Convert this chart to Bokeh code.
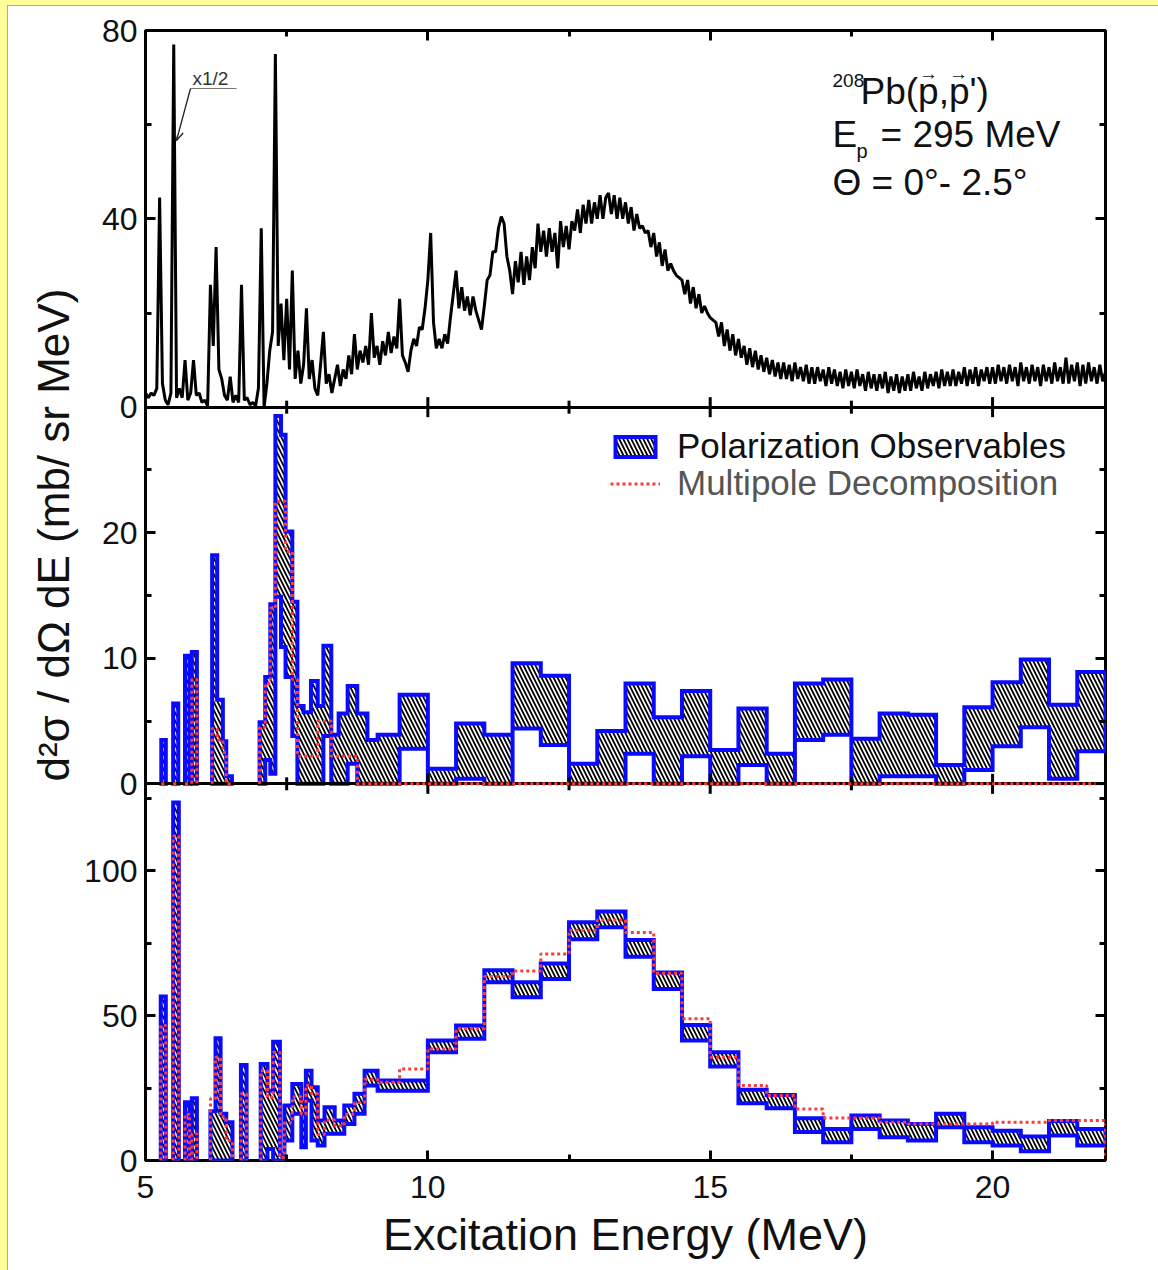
from math import pi
import numpy as np
from bokeh.plotting import figure
from bokeh.models import (Range1d, LinearAxis, FixedTicker, CustomJSTickFormatter, Label, Legend,
                          LegendItem, Arrow, OpenHead, Title)
from bokeh.embed import file_html
from bokeh.resources import INLINE

# ---------------- data ----------------
X_LO, X_HI = 5, 22

# top panel: measured spectrum (0.05 MeV steps from 5 MeV)
spec_e_start = 5.0
spec_e_step = 0.05
spec_counts = [
    3.0, 2.0, 3.0, 2.5, 4.0, 44.5, 5.0, 1.5, 0.5, 3.0, 77.0, 2.0, 4.0, 2.0, 10.0, 1.5, 3.0, 10.0, 2.5, 3.0,
    1.0, 1.5, 0.3, 26.0, 13.0, 34.0, 8.0, 6.0, 2.5, 1.5, 6.5, 1.0, 2.5, 1.0, 26.0, 1.5, 2.0, 0.5, 1.0, 0.3,
    4.0, 38.0, 0.0, 5.0, 12.0, 16.0, 75.0, 13.0, 22.0, 10.0, 23.0, 8.0, 29.0, 6.0, 12.0, 5.0, 9.0, 21.0, 6.0, 10.0,
    4.0, 2.5, 9.0, 16.0, 5.0, 7.0, 3.0, 6.0, 9.0, 4.5, 8.0, 6.0, 11.0, 7.0, 15.5, 8.0, 12.0, 9.5, 13.0, 9.0,
    20.0, 10.5, 13.0, 9.0, 14.0, 11.0, 16.0, 11.5, 15.0, 12.5, 23.0, 11.0, 9.5, 7.5, 12.0, 14.5, 13.0, 17.0, 16.5, 21.0,
    27.0, 37.0, 18.0, 12.5, 14.5, 12.5, 15.5, 13.5, 19.0, 24.0, 29.0, 21.0, 25.5, 20.5, 23.5, 19.5, 23.5, 20.5, 18.5, 16.5,
    21.5, 27.0, 28.0, 33.0, 33.0, 38.0, 40.5, 39.0, 32.0, 29.0, 24.0, 31.0, 26.5, 33.0, 26.0, 32.0, 27.0, 34.0, 29.5, 39.0,
    33.0, 37.5, 32.0, 38.0, 33.0, 37.0, 29.5, 39.5, 34.0, 38.5, 33.5, 39.5, 37.5, 42.0, 37.0, 43.0, 39.0, 44.0, 39.0, 43.5,
    40.0, 45.0, 40.0, 44.5, 45.5, 41.0, 45.0, 40.0, 44.5, 40.0, 43.5, 39.0, 42.5, 37.5, 41.0, 38.0, 38.5, 37.0, 37.5, 34.0,
    37.0, 32.0, 35.0, 30.0, 33.5, 29.0, 30.5, 29.0, 28.0, 27.5, 27.0, 24.0, 27.0, 22.0, 25.5, 21.0, 24.0, 20.0, 21.5, 20.0,
    19.0, 18.5, 18.0, 15.0, 18.0, 13.0, 16.5, 12.0, 15.5, 11.0, 14.5, 10.5, 13.0, 9.0, 12.5, 8.5, 12.0, 8.0, 11.0, 7.5,
    10.5, 7.0, 10.0, 6.5, 9.5, 6.0, 9.5, 6.0, 9.0, 5.5, 9.5, 6.0, 8.5, 5.5, 9.0, 5.0, 8.5, 5.0, 8.5, 5.5,
    8.0, 4.5, 8.5, 5.0, 8.0, 4.5, 7.5, 4.0, 8.0, 4.5, 7.5, 4.0, 8.0, 4.5, 7.0, 3.5, 7.5, 4.0, 7.0, 3.5,
    7.0, 4.0, 7.5, 3.0, 6.5, 3.5, 7.0, 3.0, 6.5, 3.5, 7.0, 3.5, 7.5, 4.0, 6.5, 3.5, 7.5, 4.0, 7.0, 4.5,
    7.5, 4.0, 8.0, 4.5, 7.5, 4.5, 8.0, 4.5, 7.5, 5.0, 8.5, 4.5, 8.0, 5.0, 8.5, 4.5, 8.0, 5.5, 8.5, 5.0,
    8.5, 5.0, 9.0, 5.5, 8.5, 5.0, 9.0, 5.5, 8.5, 4.5, 9.5, 5.5, 8.5, 5.0, 9.0, 5.5, 8.5, 4.5, 9.0, 5.5,
    8.5, 5.0, 9.5, 5.5, 8.5, 5.0, 10.5, 5.0, 9.0, 5.5, 9.5, 4.5, 9.0, 5.0, 9.5, 5.5, 8.5, 5.0, 9.0, 5.5,
    7.5,
]

# middle panel: bins (left edge, right edge), band lower / upper, multipole decomposition
mid_lo = [5.28, 5.49, 5.70, 5.82, 6.18, 6.27, 6.37, 6.43, 7.02, 7.12, 7.21, 7.30, 7.40, 7.48, 7.60, 7.69,
          7.80, 7.93, 8.05, 8.15, 8.29, 8.42, 8.58, 8.75, 8.93, 9.11, 9.5, 10.0, 10.5, 11.0, 11.5, 12.0,
          12.5, 13.0, 13.5, 14.0, 14.5, 15.0, 15.5, 16.0, 16.5, 17.0, 17.5, 18.0, 18.5, 19.0, 19.5, 20.0,
          20.5, 21.0, 21.5]
mid_hi = [5.36, 5.58, 5.78, 5.91, 6.27, 6.37, 6.43, 6.53, 7.12, 7.21, 7.30, 7.40, 7.48, 7.60, 7.69, 7.80,
          7.93, 8.05, 8.15, 8.29, 8.42, 8.58, 8.75, 8.93, 9.11, 9.5, 10.0, 10.5, 11.0, 11.5, 12.0, 12.5,
          13.0, 13.5, 14.0, 14.5, 15.0, 15.5, 16.0, 16.5, 17.0, 17.5, 18.0, 18.5, 19.0, 19.5, 20.0, 20.5,
          21.0, 21.5, 22.0]
mid_lower = [0, 0, 0, 0, 0, 0, 0, 0, 0, 1.9, 0.8, 14.9, 10.9, 8.5, 3.8, 0,
             0, 0, 0, 3.8, 0, 0, 1.6, 0, 0, 0, 2.8, 0, 0.4, 0, 4.4, 3.1,
             0, 0, 2.4, 0, 2.2, 0, 1.5, 0, 3.5, 3.9, 0, 0.6, 0.6, 0, 1.1, 3.0,
             4.5, 0.4, 2.6]
mid_upper = [3.5, 6.4, 10.2, 10.5, 18.2, 6.7, 3.4, 0.6, 4.9, 8.5, 14.3, 29.3, 27.8, 20.1, 14.5, 6.2,
             5.7, 8.2, 6.2, 11.0, 3.9, 5.6, 7.8, 5.6, 3.5, 3.9, 7.1, 1.2, 4.8, 3.9, 9.6, 8.6,
             1.6, 4.2, 8.0, 5.3, 7.4, 2.7, 6.0, 2.4, 8.0, 8.3, 3.6, 5.6, 5.5, 1.5, 6.1, 8.1,
             9.9, 6.3, 8.9]
mid_md = [0, 0, 0, 8.3, 4.4, 3.5, 2.5, 0, 4.5, 8.0, 14.0, 22.5, 22.5, 18.5, 8.3, 2.2,
          2.2, 2.2, 5.0, 5.0, 2.2, 2.2, 2.2, 0, 0, 0, 0, 0, 0, 0, 0, 0,
          0, 0, 0, 0, 0, 0, 0, 0, 0, 0, 0, 0, 0, 0, 0, 0,
          0, 0, 0]

# bottom panel
bot_lo = [5.27, 5.49, 5.70, 5.82, 6.15, 6.24, 6.33, 6.43, 6.69, 7.04, 7.16, 7.26, 7.38, 7.46, 7.60, 7.76,
          7.84, 7.94, 8.05, 8.17, 8.35, 8.52, 8.70, 8.88, 9.11, 9.5, 10.0, 10.5, 11.0, 11.5, 12.0, 12.5,
          13.0, 13.5, 14.0, 14.5, 15.0, 15.5, 16.0, 16.5, 17.0, 17.5, 18.0, 18.5, 19.0, 19.5, 20.0, 20.5,
          21.0, 21.5]
bot_hi = [5.36, 5.59, 5.78, 5.91, 6.24, 6.33, 6.43, 6.54, 6.79, 7.16, 7.26, 7.38, 7.46, 7.60, 7.76, 7.84,
          7.94, 8.05, 8.17, 8.35, 8.52, 8.70, 8.88, 9.11, 9.5, 10.0, 10.5, 11.0, 11.5, 12.0, 12.5, 13.0,
          13.5, 14.0, 14.5, 15.0, 15.5, 16.0, 16.5, 17.0, 17.5, 18.0, 18.5, 19.0, 19.5, 20.0, 20.5, 21.0,
          21.5, 22.0]
bot_lower = [0, 0, 0, 0, 0, 0, 0, 0, 0, 0, 4.0, 0, 0, 6.9, 16.1, 4.6,
             20.7, 6.9, 5.2, 9.2, 9.2, 12.6, 16.1, 25.9, 24.1, 24.1, 37.4, 42.0, 61.5, 56.3, 62.6, 76.4,
             80.5, 70.3, 59.2, 41.4, 32.4, 19.8, 18.0, 9.8, 6.3, 10.9, 8.0, 6.9, 11.5, 6.3, 5.2, 3.2,
             8.6, 5.2]
bot_upper = [56.6, 123.6, 20.1, 21.5, 17.0, 42.2, 16.1, 13.2, 33.0, 33.3, 24.1, 41.0, 2.0, 19.0, 26.4, 20.0,
             31.0, 25.3, 13.8, 18.4, 13.8, 19.0, 23.0, 31.0, 27.6, 27.6, 41.4, 46.6, 65.7, 61.5, 68.0, 82.2,
             85.9, 76.1, 64.9, 46.8, 37.4, 24.4, 22.6, 14.6, 10.9, 15.5, 13.8, 12.6, 16.1, 11.5, 10.3, 8.3,
             13.6, 10.9]
bot_md = [46.6, 112.0, 16.0, 9.2, 21.3, 35.6, 15.0, 6.9, 23.0, 31.0, 21.8, 37.4, 1.0, 13.0, 22.0, 16.0,
          26.0, 23.0, 9.0, 14.0, 12.0, 16.0, 20.0, 28.0, 27.0, 31.6, 38.5, 45.5, 63.5, 65.4, 71.3, 79.5,
          83.0, 78.7, 64.6, 48.9, 35.6, 25.9, 22.4, 17.8, 14.7, 14.7, 13.2, 12.6, 12.6, 12.6, 13.2, 13.2,
          13.8, 13.8]

# axes ticks
x_major = [5, 10, 15, 20]
x_minor = [7.5, 12.5, 17.5]
top_max, top_major, top_minor = 80, [0, 40, 80], [20, 60]
mid_max, mid_major, mid_minor = 30, [0, 10, 20], [5, 15, 25]
bot_max, bot_major, bot_minor = 130, [0, 50, 100], [25, 75, 125]

# ---------------- styling / layout ----------------
FONT = "Liberation Sans"
BLUE = "#0a0aff"
RED = "#ff3a3a"
YELLOW = "#ffff99"
W, H = 1158, 1270
FL, FR, FT, FB = 145, 1105, 30, 1160   # frame edges in page pixels


def xd(px):
    return X_LO + (px - FL) / (FR - FL) * (X_HI - X_LO)


def yd(py):
    return (FB - py) / (FB - FT) * 3.0


p = figure(width=W, height=H, x_range=Range1d(X_LO, X_HI), y_range=Range1d(0, 3),
           output_backend="svg", toolbar_location=None,
           x_axis_location=None, y_axis_location=None,
           min_border_left=FL, min_border_right=W - FR, min_border_top=FT, min_border_bottom=H - FB)
p.grid.visible = False
p.background_fill_color = "white"
p.border_fill_alpha = 0
p.outline_line_color = "black"
p.outline_line_width = 3
# slide frame: pale yellow band on the left / top edge with a thin grey rule
p.styles = {"background-color": "white",
            "box-shadow": f"inset 7px 5px 0 0 {YELLOW}, inset 8px 6px 0 0 #a8a8a8"}

panels = [("bot", bot_max), ("mid", mid_max), ("top", top_max)]
p.extra_y_ranges = {name: Range1d(-i * m, (3 - i) * m) for i, (name, m) in enumerate(panels)}


def vpos(i, m, vals):
    return [i + v / m for v in vals]


y_ticker = FixedTicker(
    ticks=vpos(0, bot_max, bot_major) + vpos(1, mid_max, mid_major) + vpos(2, top_max, top_major),
    minor_ticks=vpos(0, bot_max, bot_minor) + vpos(1, mid_max, mid_minor) + vpos(2, top_max, top_minor))
y_fmt = CustomJSTickFormatter(args=dict(lims=[bot_max, mid_max, top_max]), code="""
const k = Math.min(2, Math.floor(tick + 1e-6));
return String(Math.round((tick - k) * lims[k]));
""")
blank_fmt = CustomJSTickFormatter(code="return '';")
x_ticker = FixedTicker(ticks=x_major, minor_ticks=x_minor)


def style_axis(ax, labelled):
    ax.axis_line_color = None
    ax.major_tick_in = 10
    ax.major_tick_out = 0
    ax.minor_tick_in = 6
    ax.minor_tick_out = 0
    ax.major_tick_line_width = 3
    ax.minor_tick_line_width = 3
    ax.major_tick_line_color = "black"
    ax.minor_tick_line_color = "black"
    ax.major_label_text_font = FONT
    ax.major_label_text_color = "#111111"
    if labelled:
        ax.major_label_text_font_size = "32px"
    else:
        ax.major_label_text_font_size = "0px"
        ax.major_label_standoff = 0


left = LinearAxis(ticker=y_ticker, formatter=y_fmt)
style_axis(left, True)
left.major_label_standoff = 8
p.add_layout(left, "left")

# y title: starts near the bottom of the middle panel and runs upward
p.add_layout(Title(text="d²σ / dΩ dE (mb/ sr MeV)", align="left", offset=FB - 781, standoff=8,
                   text_font=FONT, text_font_size="44px", text_font_style="normal",
                   text_color="#111111"), "left")

right = LinearAxis(ticker=y_ticker, formatter=blank_fmt)
style_axis(right, False)
p.add_layout(right, "right")

below = LinearAxis(ticker=x_ticker, axis_label="Excitation Energy (MeV)")
style_axis(below, True)
below.major_label_standoff = 15
below.axis_label_text_font = FONT
below.axis_label_text_font_size = "45px"
below.axis_label_text_font_style = "normal"
below.axis_label_text_color = "#111111"
below.axis_label_standoff = 8
p.add_layout(below, "below")

above = LinearAxis(ticker=x_ticker, formatter=blank_fmt)
style_axis(above, False)
p.add_layout(above, "above")


# ---------------- helpers building paths from the bins ----------------
def runs(lo, hi):
    groups, cur = [], [0]
    for i in range(1, len(lo)):
        if abs(lo[i] - hi[i - 1]) < 1e-9:
            cur.append(i)
        else:
            groups.append(cur)
            cur = [i]
    groups.append(cur)
    return groups


def band_paths(lo, hi, lower, upper):
    xs, ys = [], []
    for g in runs(lo, hi):
        bx, by = [], []
        for i in g:
            bx += [lo[i], hi[i]]
            by += [upper[i], upper[i]]
        for i in reversed(g):
            bx += [hi[i], lo[i]]
            by += [lower[i], lower[i]]
        xs.append(bx)
        ys.append(by)
    return xs, ys


def step_paths(lo, hi, vals):
    xs, ys = [], []
    for g in runs(lo, hi):
        sx, sy = [lo[g[0]]], [0]
        for i in g:
            sx += [lo[i], hi[i]]
            sy += [vals[i], vals[i]]
        sx.append(hi[g[-1]])
        sy.append(0)
        xs.append(sx)
        ys.append(sy)
    return xs, ys


band_style = dict(fill_color="white", hatch_pattern="left_diagonal_line", hatch_color="black",
                  hatch_scale=8, hatch_weight=1.8, line_color=BLUE, line_width=4, line_join="miter")
red_style = dict(line_color=RED, line_width=3, line_dash="3 3")

# ---------------- glyphs ----------------
spec_e = spec_e_start + spec_e_step * np.arange(len(spec_counts))
p.line(spec_e, spec_counts, y_range_name="top", line_color="black", line_width=3)

mx, my = band_paths(mid_lo, mid_hi, mid_lower, mid_upper)
mid_band = p.patches(mx, my, y_range_name="mid", **band_style)
bx, by = band_paths(bot_lo, bot_hi, bot_lower, bot_upper)
p.patches(bx, by, y_range_name="bot", **band_style)

# panel boundaries + their tick marks
p.hspan(y=[1, 2], line_color="black", line_width=3)
p.scatter(x=x_major * 2, y=[1] * len(x_major) + [2] * len(x_major), marker="dash", angle=pi / 2,
          size=20, line_color="black", line_width=3)
p.scatter(x=x_minor * 2, y=[1] * len(x_minor) + [2] * len(x_minor), marker="dash", angle=pi / 2,
          size=13, line_color="black", line_width=3)

rx, ry = step_paths(mid_lo, mid_hi, mid_md)
mid_red = p.multi_line(rx, ry, y_range_name="mid", **red_style)
rx2, ry2 = step_paths(bot_lo, bot_hi, bot_md)
p.multi_line(rx2, ry2, y_range_name="bot", **red_style)

# ---------------- legends ----------------
leg_common = dict(padding=0, margin=0, spacing=0, border_line_color=None, background_fill_alpha=0,
                  glyph_width=50, glyph_height=25, label_standoff=17, label_height=25,
                  label_text_font=FONT, label_text_font_size="35px")
leg1 = Legend(items=[LegendItem(label="Polarization Observables", renderers=[mid_band])],
              location=(610 - FL, FB - 466), label_text_color="#111111", **leg_common)
leg2 = Legend(items=[LegendItem(label="Multipole Decomposition", renderers=[mid_red])],
              location=(610 - FL, FB - 503), label_text_color="#555555", **leg_common)
p.add_layout(leg1)
p.add_layout(leg2)


# ---------------- texts ----------------
def add_text(px, py, text, size, color="#111111", align="left"):
    p.add_layout(Label(x=xd(px), y=yd(py), text=text, text_font=FONT, text_font_size=f"{size}px",
                       text_color=color, text_align=align, text_baseline="middle"))


add_text(832, 80, "208", 19)
add_text(860, 91, "Pb(p,p')", 37)
add_text(928, 73, "→", 19, align="center")
add_text(958, 73, "→", 19, align="center")
add_text(832, 134, "E", 37)
add_text(856, 150, "p", 20)
add_text(880, 134, "= 295 MeV", 37)
add_text(832, 182, "Θ = 0°- 2.5°", 37)
add_text(192, 78, "x1/2", 19, color="#333333")

p.add_layout(Arrow(end=None, x_start=xd(190), y_start=yd(88), x_end=xd(236), y_end=yd(88),
                   line_color="#777777", line_width=1))
p.add_layout(Arrow(end=OpenHead(size=9, line_width=1.3, line_color="#222222"),
                   x_start=xd(190), y_start=yd(88), x_end=xd(176), y_end=yd(140),
                   line_color="#222222", line_width=1.3))

open("out.html", "w").write(file_html(p, INLINE))
